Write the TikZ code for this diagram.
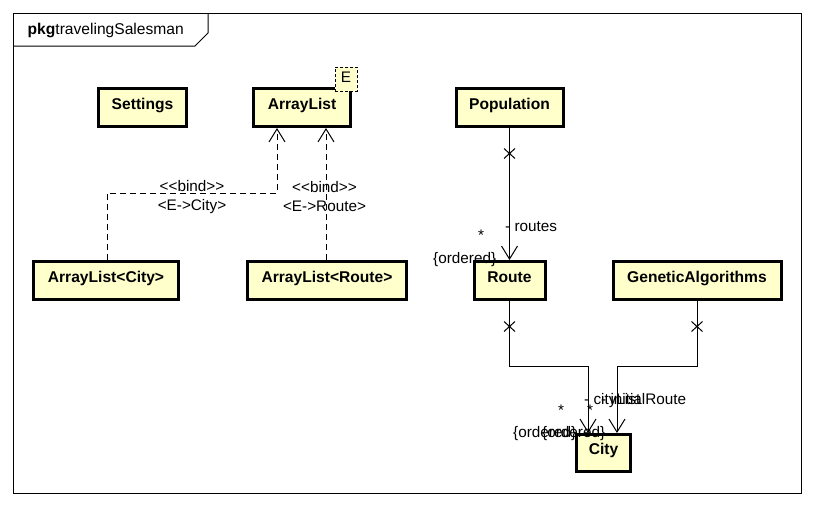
\documentclass[tikz,border=0pt]{standalone}
\usepackage{fontspec}
\setmainfont{Liberation Sans}
\usetikzlibrary{arrows.meta,shapes.misc}
\definecolor{classfill}{HTML}{FFFFCC}
\newcommand\umlsize{\fontsize{15.3}{19}\selectfont}
\newcommand\umlbold{\fontsize{15.6}{19}\selectfont\bfseries}
\newcommand\stereo[1]{<\kern0pt<#1>\kern0pt>}

\begin{document}
\begin{tikzpicture}[x=1pt,y=-1pt,
  every node/.style={font=\umlsize},
  umlclass/.style={draw,line width=3pt,fill=classfill,font=\umlbold,
    minimum height=38pt,inner sep=0pt,text height=11pt,text depth=7.4pt},
  tparam/.style={draw,line width=1pt,dash pattern=on 3pt off 2pt,fill=classfill,
    minimum width=22pt,minimum height=24pt,inner sep=0pt,text height=11pt,text depth=4pt},
  bind/.style={line width=1pt,dash pattern=on 6pt off 4pt,-{Straight Barb[length=13pt,width=16pt]}},
  assoc/.style={line width=1pt,-{Straight Barb[length=13pt,width=16pt]}},
  xmark/.style={draw,cross out,line width=1pt,minimum width=10pt,minimum height=9pt,inner sep=0pt},
  tag/.style={inner sep=0pt,anchor=base west}]
\useasboundingbox (0,0) rectangle (814,506);
% package frame
\draw[line width=1pt] (13,13) rectangle (801,493);
\draw[line width=1pt] (13,46) -- (195,46) -- (208,33) -- (208,13);
\node[anchor=west,inner sep=0pt,font=\fontsize{15.6}{19}\selectfont] (pkgname) at (27.5,31) {\textbf{pkg}travelingSalesman};
% classes
\node[umlclass,minimum width=88pt] (settings) at (142.5,107.5) {Settings};
\node[umlclass,minimum width=97pt] (al) at (302,107.5) {ArrayList};
\node[tparam] (e) at ([xshift=-6pt,yshift=8pt]al.north east) {E};
\node[umlclass,minimum width=107pt] (pop) at (509.5,107.5) {Population};
\node[umlclass,minimum width=145pt] (alc) at (106,280.5) {ArrayList<City>};
\node[umlclass,minimum width=159pt] (alr) at (327,280.5) {ArrayList<Route>};
\node[umlclass,minimum width=71pt] (route) at (509.5,280.5) {Route};
\node[umlclass,minimum width=168pt] (ga) at (697,280.5) {GeneticAlgorithms};
\node[umlclass,minimum width=54pt,minimum height=37pt] (city) at (603.5,453) {City};
% bindings
\coordinate (b1) at (277,193);
\draw[bind] ([xshift=1pt]alc.north) |- node[pos=0.75,yshift=-4pt,align=center,inner sep=0pt] (bindc)
  {\stereo{bind}\\<E->City>} (b1) -- (b1 |- al.south);
\draw[bind] ([xshift=-1pt]alr.north) -- node[xshift=-1.5pt,yshift=-3pt,align=center,inner sep=0pt] (bindr)
  {\stereo{bind}\\<E->Route>} ([xshift=24pt]al.south);
% associations
\draw[assoc] (pop) -- (route);
\node[xmark] (x1) at ([yshift=-25.5pt]pop.south) {};
\coordinate (rc) at (588,366);
\coordinate (gc) at (617,366);
\draw[assoc] (route.south) |- (rc) -- (rc |- city.north);
\draw[assoc] (ga.south) |- (gc) -- (gc |- city.north);
\node[xmark] (x2) at ([yshift=-25.5pt]route.south) {};
\node[xmark] (x3) at ([yshift=-25.5pt]ga.south) {};
% role names and multiplicities
\node[tag] (roleroutes) at (505,231) {- routes};
\node[tag] (multroutes) at (478,240) {*};
\node[tag] (ordroutes) at (433,263.5) {\{ordered\}};
\node[tag] (rolecity) at (584,404) {- cityList};
\node[tag] (roleinit) at (601,404) {- initialRoute};
\node[tag] (multcity) at (558,415) {*};
\node[tag] (multinit) at (587,415) {*};
\node[tag] (ordcity) at (513,437) {\{ordered\}};
\node[tag] (ordinit) at (542,437) {\{ordered\}};
\end{tikzpicture}
\end{document}
